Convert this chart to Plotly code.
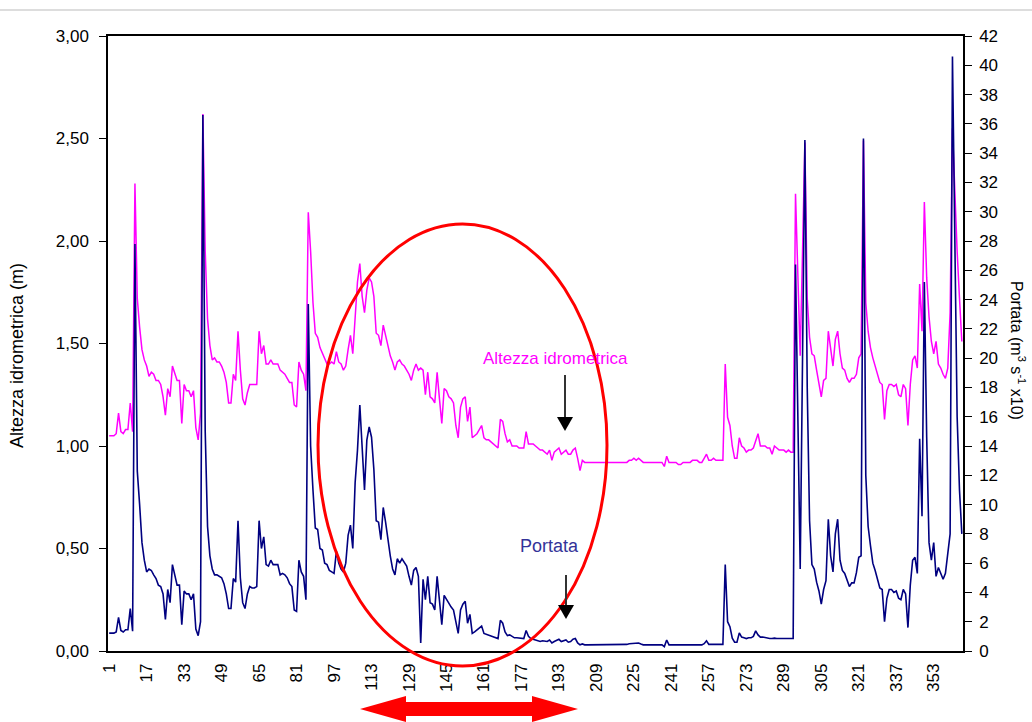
import plotly.graph_objects as go

# Canvas and plot-area margins (pixels)
W, H = 1032, 722
ML, MR, MT, MB = 108, 69, 36, 71

FONT = "Liberation Sans, Arial, sans-serif"

days = list(range(1, 366))

# Altezza idrometrica (m), daily values
altezza = [
    1.05, 1.05, 1.05, 1.06, 1.16, 1.07, 1.06, 1.08, 1.08, 1.21,
    1.07, 2.28, 1.72, 1.58, 1.47, 1.42, 1.39, 1.34, 1.36, 1.35,
    1.32, 1.32, 1.30, 1.24, 1.15, 1.28, 1.24, 1.39, 1.36, 1.32,
    1.32, 1.11, 1.30, 1.27, 1.27, 1.24, 1.27, 1.09, 1.03, 1.16,
    2.62, 1.95, 1.62, 1.49, 1.42, 1.43, 1.41, 1.41, 1.39, 1.36,
    1.31, 1.21, 1.21, 1.35, 1.32, 1.56, 1.37, 1.23, 1.20, 1.26,
    1.30, 1.30, 1.30, 1.30, 1.56, 1.45, 1.49, 1.40, 1.40, 1.42,
    1.40, 1.40, 1.40, 1.37, 1.36, 1.35, 1.33, 1.31, 1.31, 1.20,
    1.19, 1.41, 1.37, 1.35, 1.27, 2.14, 1.95, 1.70, 1.55, 1.53,
    1.48, 1.45, 1.42, 1.40, 1.40, 1.41, 1.40, 1.46, 1.41, 1.40,
    1.37, 1.39, 1.47, 1.54, 1.45, 1.65, 1.80, 1.89, 1.73, 1.65,
    1.76, 1.82, 1.80, 1.73, 1.55, 1.54, 1.49, 1.59, 1.54, 1.49,
    1.44, 1.41, 1.37, 1.41, 1.42, 1.40, 1.39, 1.37, 1.35, 1.32,
    1.37, 1.40, 1.37, 1.38, 1.37, 1.25, 1.36, 1.24, 1.23, 1.21,
    1.36, 1.23, 1.11, 1.28, 1.27, 1.24, 1.23, 1.21, 1.10, 1.04,
    1.19, 1.23, 1.24, 1.12, 1.19, 1.04, 1.05, 1.06, 1.08, 1.10,
    1.04, 1.03, 1.03, 1.02, 1.01, 1.00, 0.99, 1.13, 1.12, 1.06,
    1.02, 1.03, 1.00, 1.00, 1.00, 0.99, 0.99, 0.99, 1.07, 1.01,
    1.01, 1.01, 1.00, 0.99, 0.98, 0.98, 0.97, 0.96, 0.98, 0.93,
    0.97, 0.98, 0.99, 0.96, 0.97, 0.98, 0.96, 0.96, 0.98, 0.99,
    0.94, 0.88, 0.93, 0.92, 0.92, 0.92, 0.92, 0.92, 0.92, 0.92,
    0.92, 0.92, 0.92, 0.92, 0.92, 0.92, 0.92, 0.92, 0.92, 0.92,
    0.92, 0.92, 0.93, 0.93, 0.94, 0.93, 0.94, 0.93, 0.92, 0.92,
    0.92, 0.92, 0.92, 0.92, 0.92, 0.92, 0.92, 0.90, 0.95, 0.92,
    0.92, 0.92, 0.92, 0.91, 0.91, 0.92, 0.92, 0.92, 0.92, 0.93,
    0.93, 0.93, 0.92, 0.92, 0.94, 0.96, 0.93, 0.93, 0.94, 0.93,
    0.93, 0.93, 0.93, 1.40, 1.14, 1.10, 1.00, 0.94, 0.94, 1.04,
    1.00, 0.99, 0.97, 0.98, 0.98, 0.99, 1.03, 1.06, 1.00, 1.00,
    1.00, 0.99, 0.99, 0.96, 1.00, 0.99, 0.98, 0.98, 0.98, 0.97,
    0.98, 0.97, 0.97, 2.23, 1.82, 1.44, 1.95, 2.48, 1.72, 1.53,
    1.45, 1.44, 1.37, 1.30, 1.24, 1.32, 1.33, 1.56, 1.47, 1.39,
    1.52, 1.56, 1.45, 1.38, 1.37, 1.33, 1.31, 1.33, 1.33, 1.35,
    1.43, 1.45, 2.49, 1.70, 1.56, 1.48, 1.43, 1.39, 1.35, 1.31,
    1.30, 1.13, 1.27, 1.30, 1.30, 1.29, 1.30, 1.25, 1.24, 1.30,
    1.28, 1.10, 1.30, 1.42, 1.44, 1.38, 1.79, 1.56, 2.19, 1.82,
    1.63, 1.51, 1.45, 1.51, 1.40, 1.38, 1.35, 1.33, 1.38, 1.65,
    2.55, 2.20, 1.95, 1.72, 1.51,
]

# Portata (m3 s-1 x10), daily values
portata = [
    1.22, 1.22, 1.22, 1.30, 2.30, 1.40, 1.30, 1.45, 1.45, 2.90,
    1.35, 27.8, 12.3, 10.0, 7.4, 6.2, 5.4, 5.6, 5.5, 5.2,
    4.95, 4.5, 4.4, 3.9, 2.15, 4.2, 3.3, 5.9, 5.2, 4.5,
    4.5, 1.8, 4.1, 3.9, 3.9, 3.5, 3.9, 1.5, 1.05, 2.0,
    36.6, 15.0, 8.5, 6.5, 5.6, 5.2, 5.2, 5.1, 5.0, 4.6,
    3.9, 2.9, 2.9, 4.95, 4.7, 8.9, 5.0, 3.3, 2.9, 3.9,
    4.4, 4.3, 4.3, 4.4, 8.9, 7.0, 7.8, 5.9, 5.8, 6.2,
    5.9, 5.9, 5.9, 5.2, 5.3, 5.2, 5.0, 4.6, 4.4, 2.8,
    2.7, 6.2, 5.4, 5.1, 3.5, 23.7, 14.0, 11.0, 8.4, 8.3,
    7.0, 6.9, 6.0, 5.9, 5.5, 5.4, 5.3, 6.8, 6.0, 5.6,
    5.4, 6.0, 7.9, 8.6, 7.0, 11.5, 13.7, 16.8, 13.7, 11.0,
    14.4, 15.3, 14.6, 12.4, 8.9, 8.8, 7.6, 9.8, 8.8, 7.6,
    6.5, 5.6, 5.2, 6.3, 6.0, 6.3, 6.0, 5.8, 5.1, 4.5,
    5.5, 5.7, 5.1, 0.55, 4.9, 3.5, 5.1, 3.3, 3.2, 2.8,
    5.1, 3.3, 1.8, 3.8, 3.5, 3.3, 3.0, 2.8, 1.9, 1.2,
    2.8, 3.2, 3.4, 1.9, 2.5, 1.2, 1.3, 1.45, 1.6, 1.7,
    1.2, 1.15, 1.05, 1.0, 0.95, 0.9, 0.85, 2.1, 1.9, 1.3,
    1.05, 1.1, 1.0, 0.9, 0.9, 0.88, 0.85, 0.85, 1.4, 1.0,
    0.85, 0.8, 0.8, 0.7, 0.65, 0.7, 0.68, 0.65, 0.75, 0.55,
    0.65, 0.75, 0.8, 0.65, 0.7, 0.75, 0.6, 0.65, 0.8, 0.85,
    0.55, 0.42, 0.48, 0.42, 0.42, 0.42, 0.42, 0.42, 0.42, 0.42,
    0.42, 0.42, 0.42, 0.42, 0.42, 0.42, 0.42, 0.42, 0.42, 0.42,
    0.45, 0.45, 0.5, 0.5, 0.55, 0.5, 0.55, 0.48, 0.42, 0.42,
    0.42, 0.42, 0.42, 0.42, 0.42, 0.42, 0.42, 0.3, 0.75, 0.42,
    0.42, 0.42, 0.42, 0.4, 0.4, 0.42, 0.42, 0.42, 0.42, 0.45,
    0.45, 0.45, 0.42, 0.42, 0.5, 0.7, 0.45, 0.45, 0.5, 0.45,
    0.45, 0.45, 0.45, 5.9, 2.0, 1.66, 0.87, 0.6, 0.6, 1.24,
    0.95, 0.9, 0.85, 0.9, 0.9, 1.0, 1.37, 1.1, 0.95, 0.95,
    0.9, 0.9, 0.85, 0.85, 0.88, 0.85, 0.85, 0.85, 0.85, 0.8,
    0.85, 0.85, 0.85, 26.4, 15.7, 5.6, 20.0, 34.9, 18.0, 8.9,
    5.9, 5.6, 4.7, 4.1, 3.2, 4.2, 4.8, 9.0, 6.5, 5.4,
    8.0, 9.0, 6.2, 5.5, 5.3, 4.9, 4.4, 4.65, 4.65, 5.35,
    6.4, 6.5, 35.0, 12.0, 8.5, 7.2, 6.0, 5.5, 4.9, 4.3,
    4.2, 2.0, 3.6, 4.2, 4.2, 4.0, 4.1, 3.6, 3.5, 4.2,
    3.9, 1.6, 4.5, 6.2, 6.4, 5.3, 14.5, 9.2, 25.2, 14.6,
    7.4, 6.2, 7.4, 5.1, 5.7, 5.3, 4.9, 5.3, 6.8, 8.0,
    40.6, 26.0, 16.0, 11.0, 8.0,
]

x_tick_days = list(range(1, 366, 16))
x_tick_text = [str(d) for d in x_tick_days]
left_ticks = [0, 0.5, 1.0, 1.5, 2.0, 2.5, 3.0]
right_ticks = list(range(0, 43, 2))

PW = W - ML - MR
PH = H - MT - MB


def paper(xp, yp):
    """Convert a pixel position on the canvas to paper coordinates."""
    return (xp - ML) / PW, (H - MB - yp) / PH


fig = go.Figure()

fig.add_trace(go.Scatter(
    x=days, y=altezza, mode="lines", name="Altezza idrometrica",
    line=dict(color="#FF00FF", width=1.5), yaxis="y",
))
fig.add_trace(go.Scatter(
    x=days, y=portata, mode="lines", name="Portata",
    line=dict(color="#000080", width=1.6), yaxis="y2",
))

axis_font = dict(family=FONT, size=17, color="black")

fig.update_layout(
    width=W, height=H,
    margin=dict(l=ML, r=MR, t=MT, b=MB, pad=0),
    paper_bgcolor="white", plot_bgcolor="white",
    showlegend=False,
    separators=",.",
    font=dict(family=FONT, size=17, color="black"),
    xaxis=dict(
        range=[0.5, 365.5], tickmode="array", tickvals=x_tick_days,
        ticktext=x_tick_text, tickangle=-90, tickfont=axis_font,
        showgrid=False, zeroline=False, showline=True, linecolor="black",
        linewidth=1.5, mirror=True, ticks="", ticklabelstandoff=4,
    ),
    yaxis=dict(
        range=[0, 3], tickmode="array", tickvals=left_ticks,
        tickformat=".2f", tickfont=axis_font, showgrid=False,
        zeroline=False, showline=True, linecolor="black", linewidth=1.5,
        ticks="outside", ticklen=7, tickwidth=1, tickcolor="black",
        ticklabelstandoff=7,
    ),
    yaxis2=dict(
        range=[0, 42], tickmode="array", tickvals=right_ticks,
        tickfont=axis_font, overlaying="y", side="right", showgrid=False,
        zeroline=False, showline=True, linecolor="black", linewidth=1.5,
        ticks="outside", ticklen=7, tickwidth=1, tickcolor="black",
        ticklabelstandoff=4,
    ),
)

shapes = []

# thin rule across the top of the page
x0, y0 = paper(0, 10)
x1, _ = paper(W, 10)
shapes.append(dict(type="line", xref="paper", yref="paper", x0=x0, x1=x1,
                   y0=y0, y1=y0, line=dict(color="#BBBBBB", width=1)))

# red ellipse around the recession period
ex0, ey0 = paper(318, 666)
ex1, ey1 = paper(607, 224)
shapes.append(dict(type="circle", xref="paper", yref="paper",
                   x0=ex0, y0=ey0, x1=ex1, y1=ey1,
                   line=dict(color="#FF0000", width=3)))

# red double-headed arrow under the axis labels
arrow_pts = [(360, 709), (406, 696), (406, 702), (532, 702), (532, 696),
             (578, 709), (532, 722), (532, 716), (406, 716), (406, 722)]
path = "M " + " L ".join(f"{paper(a, b)[0]:.5f},{paper(a, b)[1]:.5f}"
                         for a, b in arrow_pts) + " Z"
shapes.append(dict(type="path", xref="paper", yref="paper", path=path,
                   fillcolor="#FF0000", line=dict(color="#FF0000", width=0)))


def down_arrow(xc, ytop, ytip, head=14, half=8):
    """Black vertical arrow pointing down to the curve."""
    a0 = paper(xc, ytop)
    a1 = paper(xc, ytip - head)
    shapes.append(dict(type="line", xref="paper", yref="paper",
                       x0=a0[0], y0=a0[1], x1=a1[0], y1=a1[1],
                       line=dict(color="#333333", width=2)))
    pts = [(xc - half, ytip - head), (xc + half, ytip - head), (xc, ytip)]
    p = "M " + " L ".join(f"{paper(a, b)[0]:.5f},{paper(a, b)[1]:.5f}"
                          for a, b in pts) + " Z"
    shapes.append(dict(type="path", xref="paper", yref="paper", path=p,
                       fillcolor="black", line=dict(color="black", width=0)))


down_arrow(565, 375, 431)
down_arrow(566, 575, 619)

fig.update_layout(shapes=shapes)

annotations = []


def label(text, xp, yp, color, xanchor="left", angle=0, size=17):
    ax, ay = paper(xp, yp)
    annotations.append(dict(
        text=text, x=ax, y=ay, xref="paper", yref="paper", showarrow=False,
        xanchor=xanchor, yanchor="middle", textangle=angle,
        font=dict(family=FONT, size=size, color=color),
    ))


label("Altezza idrometrica", 481, 358, "#FF00FF")
label("Portata", 518, 546, "#333399", size=18)
label("Altezza idrometrica (m)", 17, 356, "black", xanchor="center",
      angle=-90, size=18)
label("Portata (m<sup>3</sup> s<sup>-1</sup> x10)", 1018, 350, "black",
      xanchor="center", angle=90, size=16)

fig.update_layout(annotations=annotations)

fig.write_html("out.html")
